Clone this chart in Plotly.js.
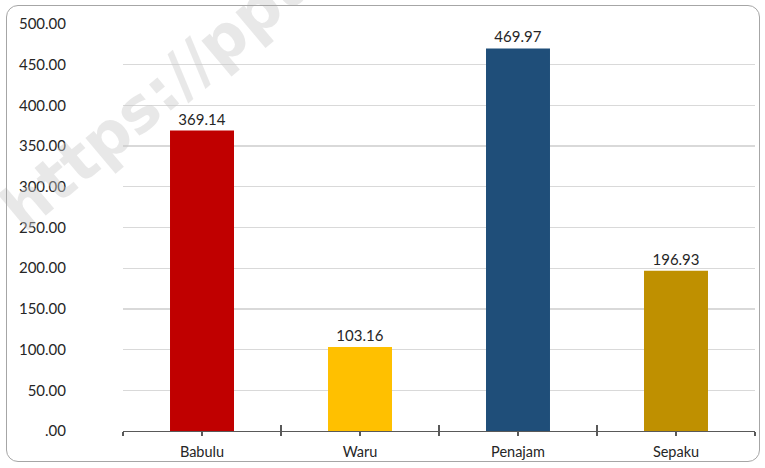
<!DOCTYPE html>
<html>
<head>
<meta charset="utf-8">
<script src="https://cdn.plot.ly/plotly-3.0.1.min.js"></script>
<style>
  html, body { margin: 0; padding: 0; background: #ffffff; }
  #wrap { position: relative; width: 765px; height: 468px; overflow: hidden; }
  #chart { position: absolute; left: 0; top: 0; width: 765px; height: 468px; }
  #frame { position: absolute; left: 6px; top: 5px; width: 752px; height: 455px;
           border: 1.3px solid #a6a6a6; border-radius: 12px; pointer-events: none; }
</style>
</head>
<body>
<div id="wrap">
  <div id="chart"></div>
  <div id="frame"></div>
</div>
<script>
const categories = ["Babulu", "Waru", "Penajam", "Sepaku"];
const values = [369.14, 103.16, 469.97, 196.93];
const valueLabels = ["369.14", "103.16", "469.97", "196.93"];
const barColors = ["#C00000", "#FFC000", "#1F4E79", "#BF9000"];
const yTickVals = [0, 50, 100, 150, 200, 250, 300, 350, 400, 450, 500];
const yTickText = [".00", "50.00", "100.00", "150.00", "200.00", "250.00", "300.00", "350.00", "400.00", "450.00", "500.00"];
const watermark = "https://ppukab.bps.go.id";

const FONT = "Lato, 'Open Sans', sans-serif";
const AX = "#595959";

const main = {
  type: "bar",
  x: categories,
  y: values,
  text: valueLabels,
  texttemplate: "%{text}",
  textposition: "outside",
  cliponaxis: false,
  textfont: { family: FONT, size: 15, color: "#262626" },
  marker: { color: barColors, line: { width: 0 } },
  hoverinfo: "skip",
  showlegend: false
};
const ghost2 = { type: "bar", x: categories, y: values, xaxis: "x2", marker: { opacity: 0 }, hoverinfo: "skip", showlegend: false };
const ghost3 = { type: "bar", x: categories, y: values, xaxis: "x3", marker: { opacity: 0 }, hoverinfo: "skip", showlegend: false };

const catAxisBase = {
  type: "category",
  categoryarray: categories,
  range: [-0.5, categories.length - 0.5],
  showgrid: false,
  zeroline: false,
  fixedrange: true
};

const layout = {
  width: 765,
  height: 468,
  margin: { l: 123, r: 10, t: 24, b: 37, pad: 0 },
  paper_bgcolor: "rgba(0,0,0,0)",
  plot_bgcolor: "rgba(0,0,0,0)",
  bargap: 0.595,
  font: { family: FONT, size: 15, color: "#262626" },
  xaxis: Object.assign({}, catAxisBase, {
    showline: true, linecolor: AX, linewidth: 1.3,
    ticks: "outside", tickson: "labels", ticklen: 4, tickcolor: AX, tickwidth: 1.3,
    tickfont: { family: FONT, size: 14.5, color: "#262626" },
    ticklabelstandoff: 3
  }),
  xaxis2: Object.assign({}, catAxisBase, {
    overlaying: "x", anchor: "y", side: "bottom",
    showline: false, showticklabels: false,
    ticks: "outside", tickson: "boundaries", ticklen: 4, tickcolor: AX, tickwidth: 1.3
  }),
  xaxis3: Object.assign({}, catAxisBase, {
    overlaying: "x", anchor: "y", side: "bottom",
    showline: false, showticklabels: false,
    ticks: "inside", tickson: "boundaries", ticklen: 6, tickcolor: AX, tickwidth: 1.3
  }),
  yaxis: {
    range: [0, 500],
    tickvals: yTickVals,
    ticktext: yTickText,
    showgrid: true, gridcolor: "#d9d9d9", gridwidth: 1.3,
    zeroline: false, showline: false, ticks: "",
    ticklabelstandoff: 56,
    tickfont: { family: FONT, size: 15, color: "#262626" },
    fixedrange: true
  },
  annotations: [{
    text: watermark,
    xref: "paper", yref: "paper",
    x: -0.22, y: 0.45,
    xanchor: "left", yanchor: "bottom",
    showarrow: false,
    textangle: -40,
    font: { family: "'DejaVu Sans', sans-serif", size: 62, color: "rgba(200,200,200,0.42)", weight: "bold" }
  }]
};

Plotly.newPlot("chart", [ghost2, ghost3, main], layout, { displayModeBar: false, staticPlot: true });
</script>
</body>
</html>
